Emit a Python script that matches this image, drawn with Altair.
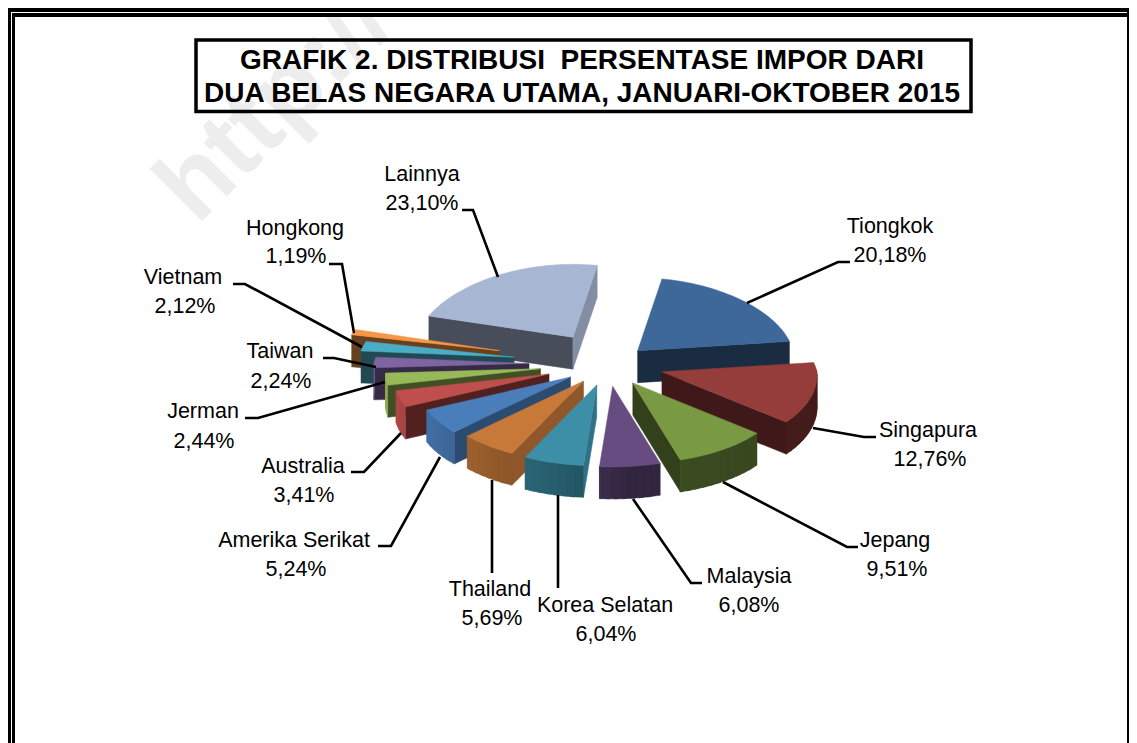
import math
import altair as alt
import numpy as np
import pandas as pd

# ---- chart values
names = ["Tiongkok", "Singapura", "Jepang", "Malaysia", "Korea Selatan", "Thailand", "Amerika Serikat",
         "Australia", "Jerman", "Taiwan", "Vietnam", "Hongkong", "Lainnya"]
values = [20.18, 12.76, 9.51, 6.08, 6.04, 5.69, 5.24, 3.41, 2.44, 2.24, 2.12, 1.19, 23.10]
top_colors = ["#3D6899", "#953D3B", "#7A9943", "#664C80", "#3C8FA6", "#C7793A", "#4A7EBB",
              "#BE4F4C", "#98B957", "#8064A2", "#4BACC6", "#F79646", "#A7B6D3"]
explode = [41, 56, 44, 43, 42, 41, 45, 62, 68, 79, 95, 112, 67]
draw_order = ["Lainnya", "Tiongkok", "Hongkong", "Vietnam", "Taiwan", "Jerman", "Australia",
              "Amerika Serikat", "Thailand", "Korea Selatan", "Malaysia", "Singapura", "Jepang"]
title_lines = ["GRAFIK 2. DISTRIBUSI\u00a0 PERSENTASE IMPOR DARI",
               "DUA BELAS NEGARA UTAMA, JANUARI-OKTOBER 2015"]

# ---- layout (image pixels)
W, H = 1129, 743
CX, CY, R, DEPTH, START = 608, 364, 155, 32, 10
label_pos = {
    "Tiongkok": (890, 233, 890, 262), "Singapura": (928, 437, 930, 466), "Jepang": (895, 547, 897, 576),
    "Malaysia": (749, 583, 749, 612), "Korea Selatan": (605, 612, 606, 641), "Thailand": (490, 596, 492, 625),
    "Amerika Serikat": (294, 547, 296, 576), "Australia": (303, 473, 304, 502), "Jerman": (203, 418, 204, 448),
    "Taiwan": (280, 358, 281, 388), "Vietnam": (183, 284, 185, 313), "Hongkong": (295, 235, 296, 263),
    "Lainnya": (422, 181, 422, 210),
}
leaders = {
    "Tiongkok": [(850, 262), (838, 262), (747, 303)], "Singapura": [(876, 437), (864, 437), (813, 428)],
    "Jepang": [(858, 547), (847, 547), (723, 482)], "Malaysia": [(702, 583), (691, 583), (633, 499)],
    "Korea Selatan": [(558, 588), (558, 495)], "Thailand": [(492, 573), (492, 480)],
    "Amerika Serikat": [(378, 546), (391, 546), (440, 457)], "Australia": [(351, 472), (364, 472), (401, 433)],
    "Jerman": [(245, 418), (258, 418), (385, 382)], "Taiwan": [(323, 358), (334, 358), (376, 367)],
    "Vietnam": [(233, 284), (245, 284), (362, 347)], "Hongkong": [(329, 264), (342, 264), (354, 333)],
    "Lainnya": [(462, 210), (473, 210), (498, 277)],
}
frame_rects = [(8, W, 8, 17, "#000000"), (8, 15, 8, H, "#000000"), (W - 2, W, 8, H, "#000000"),
               (11, W - 2, 12, 13, "#ffffff"), (11, 12, 12, H, "#ffffff")]


def k_of(theta):
    return 0.47 if math.cos(math.radians(theta)) > 0 else 0.52


def shade(hex_color, f):
    r, g, b = (int(hex_color[i:i + 2], 16) for i in (1, 3, 5))
    return "#%02x%02x%02x" % (int(r * f), int(g * f), int(b * f))


def poly(points, color):
    ring = [list(p) for p in points] + [list(points[0])]
    return {"type": "Feature", "properties": {"c": color},
            "geometry": {"type": "Polygon", "coordinates": [ring]}}


spans = {}
acc = START
for name, v in zip(names, values):
    spans[name] = (acc, acc + v * 3.6)
    acc += v * 3.6

features = []
for name in draw_order:
    i = names.index(name)
    a0, a1 = spans[name]
    mid = (a0 + a1) / 2
    ax = CX + explode[i] * math.sin(math.radians(mid))
    ay = CY - explode[i] * k_of(mid) * math.cos(math.radians(mid))

    def pt(t, d=0):
        c = math.cos(math.radians(t))
        persp = 1 - (0.1 if c > 0 else 0.04) * c
        return (ax + R * persp * math.sin(math.radians(t)),
                ay - R * k_of(t) * c + d)

    col = top_colors[i]
    # radial walls
    for edge, normal in ((a0, a0 - 90), (a1, a1 + 90)):
        n = normal % 360
        if 90 <= n <= 270:
            f = float(np.interp(n, [90, 116, 137, 155, 270], [0.82, 0.73, 0.6, 0.43, 0.42]))
            features.append(poly([(ax, ay), pt(edge), pt(edge, DEPTH), (ax, ay + DEPTH)], shade(col, f)))
    # rim, cut in small overlapping quads so that it shades along the arc
    ts = np.arange(a0, a1 + 3, 3.0)
    ts[-1] = a1
    for t0, t1 in zip(ts[:-1], ts[1:]):
        tm = (t0 + t1) / 2 % 360
        if 90 <= tm <= 270:
            f = float(np.interp(tm, [90, 175, 185, 195, 216, 236, 252, 270],
                                [0.45, 0.5, 0.6, 0.66, 0.75, 0.85, 0.9, 0.95]))
            t2 = min(t1 + 2, a1)
            arc = [pt(t) for t in (t0, t1, t2)]
            low = [pt(t, DEPTH) for t in (t2, t1, t0)]
            features.append(poly(arc + low, shade(col, f)))
    # top
    arc = [pt(t) for t in np.linspace(a0, a1, max(4, int((a1 - a0) / 2)))]
    features.append(poly([(ax, ay)] + arc, col))

# ---- tables
label_rows = []
for n, v in zip(names, values):
    x1, y1, x2, y2 = label_pos[n]
    label_rows.append({"x": x1, "y": y1, "t": n})
    label_rows.append({"x": x2, "y": y2, "t": f"{v:.2f}%".replace(".", ",")})
labels_df = pd.DataFrame(label_rows)
leader_df = pd.DataFrame([{"n": n, "o": j, "x": p[0], "y": p[1]} for n, pts in leaders.items() for j, p in enumerate(pts)])
frame_df = pd.DataFrame(frame_rects, columns=["x", "x2", "y", "y2", "c"])
title_df = pd.DataFrame({"x": [582, 582], "y": [69, 102], "t": title_lines})
box_df = pd.DataFrame({"x": [196], "x2": [971], "y": [40], "y2": [111.5]})
wm_df = pd.DataFrame({"x": [197], "y": [226], "t": ["http://"]})

xs = alt.Scale(domain=[8, W], range=[0, W - 8], nice=False, zero=False)
ys = alt.Scale(domain=[8, H], range=[0, H - 8], nice=False, zero=False)
X = lambda f="x": alt.X(f"{f}:Q", axis=None, scale=xs)
Y = lambda f="y": alt.Y(f"{f}:Q", axis=None, scale=ys)

watermark = alt.Chart(wm_df).mark_text(font="Liberation Sans", fontWeight="bold", fontSize=102, angle=315,
                                       align="left", baseline="alphabetic", color="#EDEDED").encode(x=X(), y=Y(), text="t:N")
frame = alt.Chart(frame_df).mark_rect().encode(x=X(), x2="x2:Q", y=Y(), y2="y2:Q",
                                               fill=alt.Fill("c:N", scale=None))
box = alt.Chart(box_df).mark_rect(fillOpacity=0, stroke="#000000", strokeWidth=3.5).encode(x=X(), x2="x2:Q", y=Y(), y2="y2:Q")
title = alt.Chart(title_df).mark_text(font="Liberation Sans", fontWeight="bold", fontSize=28, align="center",
                                      baseline="alphabetic", color="#000000").encode(x=X(), y=Y(), text="t:N")
pie = alt.Chart(alt.InlineData(values={"type": "FeatureCollection", "features": features},
                               format=alt.DataFormat(type="json", property="features"))).mark_geoshape(
    strokeWidth=0.5, strokeJoin="round").encode(
    fill=alt.Fill("properties.c:N", scale=None), stroke=alt.Stroke("properties.c:N", scale=None)
).project(type="identity", scale=1, translate=[-8, -8])
lines = alt.Chart(leader_df).mark_line(color="#000000", strokeWidth=2.6, strokeJoin="miter").encode(
    x=X(), y=Y(), detail="n:N", order="o:Q")
labels = alt.Chart(labels_df).mark_text(font="Liberation Sans", fontSize=21.5, align="center",
                                        baseline="alphabetic", color="#000000").encode(x=X(), y=Y(), text="t:N")

chart = alt.layer(watermark, frame, box, title, pie, lines, labels).properties(
    width=W - 8, height=H - 8, padding=0, background="#ffffff",
    autosize=alt.AutoSizeParams(type="none")
).configure_view(stroke=None)

chart.save("out.html", embed_options={"renderer": "svg", "actions": False})
